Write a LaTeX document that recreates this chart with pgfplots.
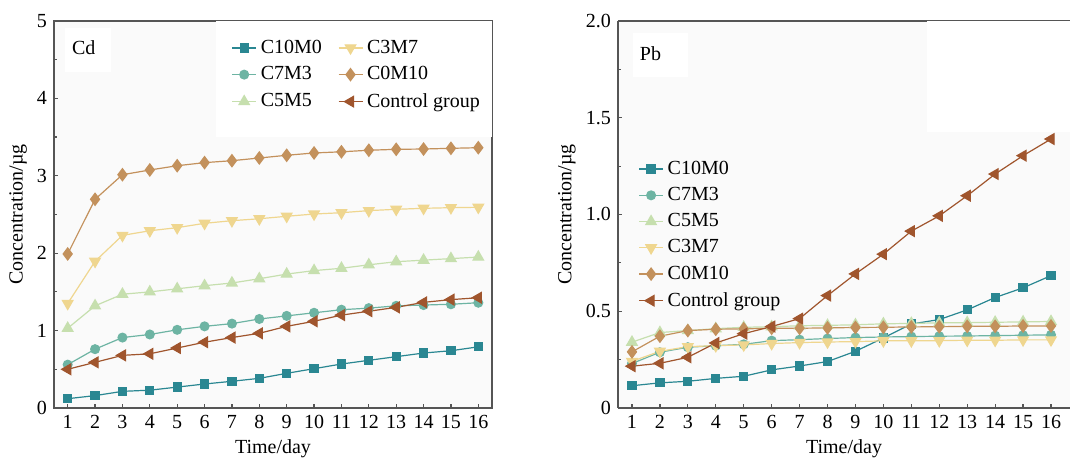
\documentclass[border=0pt]{standalone}
\usepackage{fontspec}
\setmainfont{Liberation Serif}
\usepackage{pgfplots}
\pgfplotsset{compat=1.18}
\definecolor{cA}{HTML}{2A8792}
\definecolor{cB}{HTML}{6DB4A3}
\definecolor{cC}{HTML}{C6DFAE}
\definecolor{cD}{HTML}{EFD68F}
\definecolor{cE}{HTML}{C3915C}
\definecolor{cF}{HTML}{A0552D}
\definecolor{bgc}{HTML}{FAFAFA}
\definecolor{spine}{HTML}{555555}

\pgfplotsset{
  panel/.style={
    scale only axis, height=193.5pt,
    xmin=0.5, ymin=0,
    xtick={1,...,16}, xtick pos=left, ytick pos=left,
    tick align=inside, major tick length=2.2pt, minor tick length=1.3pt,
    tick style={spine, line width=0.6pt},
    axis line style={spine, line width=0.8pt},
    axis background/.style={fill=bgc},
    font=\fontsize{10}{12}\selectfont,
    /pgf/number format/assume math mode=true,
    xlabel={Time/day}, ylabel={Concentration/µg},
    xlabel style={at={(axis description cs:0.5,-0.106)}, anchor=center},
    every axis plot/.append style={line width=0.6pt},
    legend image code/.code={\draw[#1,mark repeat=2,mark phase=2] plot coordinates {(0pt,0pt) (6pt,0pt) (12pt,0pt)};},
  },
  sA/.style={cA, mark=square*, mark size=2pt, mark options={fill=cA}},
  sB/.style={cB, mark=*, mark size=2.2pt, mark options={fill=cB}},
  sC/.style={cC, mark=triangle*, mark size=3pt, mark options={fill=cC}},
  sD/.style={cD, mark=triangle*, mark size=3pt, mark options={fill=cD, rotate=180}},
  sE/.style={cE, mark=diamond*, mark size=3pt, mark options={fill=cE}},
  sF/.style={cF, mark=triangle*, mark size=3pt, mark options={fill=cF, rotate=90}},
}

\begin{document}
\begin{tikzpicture}
\useasboundingbox (0,0) rectangle (535.5pt,229pt);

% ---- Cd ----
\begin{axis}[panel, at={(27pt,25pt)}, anchor=south west, width=219pt,
  xmax=16.5, ymax=5, ytick={0,1,2,3,4,5}, minor y tick num=1,
  ylabel style={at={(axis description cs:-0.082,0.5)}, anchor=center},
  legend columns=2,
  legend style={at={(rel axis cs:0.4,0.968)}, anchor=north west, fill=white, draw=none,
    inner sep=1pt, row sep=1.2pt, column sep=0pt, font=\fontsize{10}{12}\selectfont,
    /tikz/every even column/.append style={column sep=6pt}},
  legend cell align=left]
\fill[white] (rel axis cs:0.37,0.70) rectangle (rel axis cs:1,1);
\fill[white] (rel axis cs:0.025,0.868) rectangle (rel axis cs:0.13,0.982);
\node[anchor=west] at (rel axis cs:0.025,0.93) {Cd};
\addplot[sA] coordinates {(1,0.12) (2,0.16) (3,0.215) (4,0.23) (5,0.27) (6,0.31) (7,0.345) (8,0.383) (9,0.448) (10,0.508) (11,0.568) (12,0.616) (13,0.663) (14,0.71) (15,0.74) (16,0.79)};
\addlegendentry{C10M0}
\addplot[sD] coordinates {(1,1.35) (2,1.895) (3,2.23) (4,2.29) (5,2.33) (6,2.386) (7,2.42) (8,2.445) (9,2.477) (10,2.506) (11,2.523) (12,2.55) (13,2.567) (14,2.58) (15,2.588) (16,2.593)};
\addlegendentry{C3M7}
\addplot[sB] coordinates {(1,0.56) (2,0.76) (3,0.91) (4,0.95) (5,1.01) (6,1.055) (7,1.09) (8,1.15) (9,1.19) (10,1.23) (11,1.27) (12,1.29) (13,1.32) (14,1.33) (15,1.34) (16,1.36)};
\addlegendentry{C7M3}
\addplot[sE] coordinates {(1,1.99) (2,2.696) (3,3.014) (4,3.075) (5,3.13) (6,3.17) (7,3.195) (8,3.23) (9,3.265) (10,3.295) (11,3.31) (12,3.33) (13,3.342) (14,3.346) (15,3.355) (16,3.363)};
\addlegendentry{C0M10}
\addplot[sC] coordinates {(1,1.03) (2,1.32) (3,1.47) (4,1.50) (5,1.54) (6,1.58) (7,1.615) (8,1.67) (9,1.73) (10,1.775) (11,1.805) (12,1.85) (13,1.89) (14,1.91) (15,1.93) (16,1.95)};
\addlegendentry{C5M5}
\addplot[sF] coordinates {(1,0.50) (2,0.59) (3,0.68) (4,0.70) (5,0.775) (6,0.85) (7,0.91) (8,0.965) (9,1.055) (10,1.12) (11,1.20) (12,1.25) (13,1.30) (14,1.365) (15,1.40) (16,1.425)};
\addlegendentry{Control group}
\end{axis}

% ---- Pb ----
\begin{axis}[panel, at={(309pt,25pt)}, anchor=south west, width=226pt,
  axis y line*=left, axis x line*=box,
  xmax=16.68, ymax=2, ytick={0,0.5,1,1.5,2}, yticklabels={0,0.5,1.0,1.5,2.0}, minor y tick num=1,
  ylabel style={at={(axis description cs:-0.113,0.5)}, anchor=center},
  legend style={at={(rel axis cs:0.04,0.655)}, anchor=north west, fill=none, draw=none,
    inner sep=1pt, row sep=1pt, font=\fontsize{10}{12}\selectfont},
  legend cell align=left]
\fill[white] (rel axis cs:0.684,0.713) rectangle (rel axis cs:1,1);
\fill[white] (rel axis cs:0.033,0.855) rectangle (rel axis cs:0.155,0.969);
\node[anchor=west] at (rel axis cs:0.033,0.915) {Pb};
\addplot[sA] coordinates {(1,0.115) (2,0.13) (3,0.138) (4,0.153) (5,0.164) (6,0.197) (7,0.217) (8,0.24) (9,0.293) (10,0.362) (11,0.434) (12,0.457) (13,0.507) (14,0.571) (15,0.621) (16,0.684)};
\addlegendentry{C10M0}
\addplot[sB] coordinates {(1,0.23) (2,0.288) (3,0.314) (4,0.322) (5,0.329) (6,0.348) (7,0.353) (8,0.359) (9,0.364) (10,0.367) (11,0.369) (12,0.371) (13,0.372) (14,0.374) (15,0.376) (16,0.378)};
\addlegendentry{C7M3}
\addplot[sC] coordinates {(1,0.34) (2,0.39) (3,0.40) (4,0.41) (5,0.417) (6,0.42) (7,0.425) (8,0.427) (9,0.43) (10,0.435) (11,0.437) (12,0.44) (13,0.441) (14,0.443) (15,0.445) (16,0.447)};
\addlegendentry{C5M5}
\addplot[sD] coordinates {(1,0.241) (2,0.293) (3,0.317) (4,0.322) (5,0.326) (6,0.333) (7,0.338) (8,0.341) (9,0.343) (10,0.347) (11,0.347) (12,0.348) (13,0.35) (14,0.35) (15,0.352) (16,0.352)};
\addlegendentry{C3M7}
\addplot[sE] coordinates {(1,0.29) (2,0.371) (3,0.40) (4,0.407) (5,0.409) (6,0.412) (7,0.412) (8,0.414) (9,0.416) (10,0.417) (11,0.419) (12,0.42) (13,0.422) (14,0.422) (15,0.424) (16,0.424)};
\addlegendentry{C0M10}
\addplot[sF] coordinates {(1,0.216) (2,0.231) (3,0.262) (4,0.336) (5,0.384) (6,0.421) (7,0.462) (8,0.581) (9,0.693) (10,0.795) (11,0.914) (12,0.993) (13,1.097) (14,1.209) (15,1.304) (16,1.39)};
\addlegendentry{Control group}
\end{axis}
\end{tikzpicture}
\end{document}
